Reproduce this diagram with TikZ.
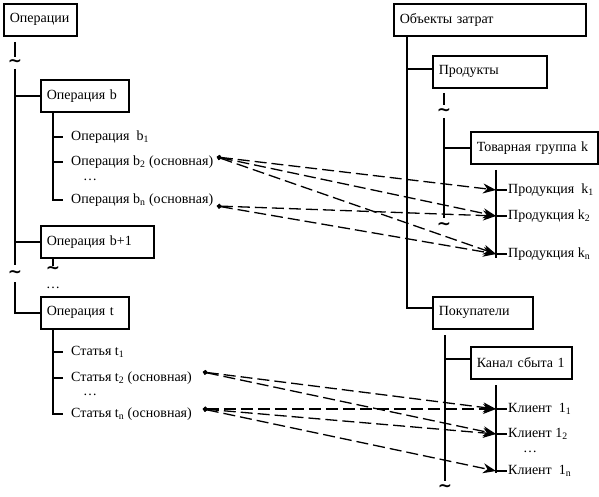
\documentclass[tikz,border=0pt]{standalone}
\usepackage{fontspec}
\setmainfont{Liberation Serif}
\newfontfamily\wavefont{DejaVu Sans}
\usetikzlibrary{arrows.meta}
\tikzset{
	box/.style={draw, line width=1.6pt, anchor=north west, minimum height=32pt, inner xsep=6pt, inner ysep=0pt, align=left},
	tree/.style={line width=1.6pt},
	iteml/.style={anchor=west, inner xsep=8pt, inner ysep=1pt},
	itemr/.style={anchor=west, inner xsep=1pt, inner ysep=1pt},
	more/.style={inner sep=0pt},
	wave/.style={inner sep=0pt, font=\wavefont\bfseries\fontsize{17}{17}\selectfont},
	link/.style={line width=1.3pt, dash pattern=on 12pt off 5pt, {Circle[length=4.5pt]}-{Stealth[length=13pt,width=10pt]}}
}
\begin{document}
\begin{tikzpicture}[x=1pt, y=-1pt, font=\fontsize{14}{16}\selectfont]
	\useasboundingbox (0,0) rectangle (599,497);
	\node[box, text width=61pt] (ops) at (3,3) {Операции};
	\node[box, text width=76pt] (opb) at (40,79) {Операция~b};
	\node[box, text width=101pt] (opb1) at (40,225) {Операция~b+1};
	\node[box, text width=76pt] (opt) at (40,296) {Операция~t};
	\node[box, text width=180pt] (obj) at (393,3) {Объекты~затрат};
	\node[box, text width=102pt] (prod) at (432,55) {Продукты};
	\node[box, text width=115pt] (grp) at (470,131) {Товарная~группа~k};
	\node[box, text width=88pt] (cust) at (432,296) {Покупатели};
	\node[box, text width=89pt] (chan) at (470,346) {Канал~сбыта~1};
	% operations
	\draw[tree] (15,42) -- (15,57);
	\node[wave] (w1) at (15,63) {\textasciitilde};
	\coordinate (s1) at (15,69);
	\draw[tree] (s1) -- (15,265);
	\draw[tree] (s1 |- opb.west) -- (opb.west);
	\draw[tree] (s1 |- opb1.west) -- (opb1.west);
	\node[wave] (w2) at (15,274) {\textasciitilde};
	\draw[tree] (15,282) |- (opt.west);
	\coordinate (sb) at ([xshift=13pt]opb.south west);
	\node[iteml] (b1) at (63,137) {Операция\ \ b\textsubscript{1}};
	\node[iteml] (b2) at (63,162) {Операция b\textsubscript{2} (основная)};
	\node[more] (bd) at (90,180) {\dots};
	\node[iteml] (bn) at (63,200) {Операция b\textsubscript{n} (основная)};
	\draw[tree] (sb) |- (b1.west);
	\draw[tree] (sb) |- (b2.west);
	\draw[tree] (sb) |- (bn.west);
	\coordinate (sb1) at ([xshift=13pt]opb1.south west);
	\draw[tree] (sb1) -- ++(0,7);
	\node[wave] (w3) at (53,270) {\textasciitilde};
	\node[more] (bd1) at (53,288) {\dots};
	\coordinate (st) at ([xshift=13pt]opt.south west);
	\node[iteml] (t1) at (63,352) {Статья t\textsubscript{1}};
	\node[iteml] (t2) at (63,378) {Статья t\textsubscript{2} (основная)};
	\node[more] (td) at (90,395) {\dots};
	\node[iteml] (tn) at (63,414) {Статья t\textsubscript{n} (основная)};
	\draw[tree] (st) |- (t1.west);
	\draw[tree] (st) |- (t2.west);
	\draw[tree] (st) |- (tn.west);
	% cost objects
	\coordinate (so) at ([xshift=14pt]obj.south west);
	\draw[tree] (so) |- ([yshift=5pt]cust.west);
	\draw[tree] (so |- prod.west) ++(0,-3) -- ([yshift=3pt]prod.west);
	\draw[tree] (444,93) -- (444,105);
	\node[wave] (w4) at (444,112) {\textasciitilde};
	\coordinate (sp) at (444,118);
	\draw[tree] (sp) -- (444,218);
	\draw[tree] (sp |- grp.west) -- (grp.west);
	\node[wave] (w5) at (444,226) {\textasciitilde};
	\coordinate (sg) at (496,170);
	\node[itemr] (k1) at (507,190) {Продукция\ \ k\textsubscript{1}};
	\node[itemr] (k2) at (507,216) {Продукция k\textsubscript{2}};
	\node[itemr] (kn) at (507,254) {Продукция k\textsubscript{n}};
	\draw[tree] (sg) -- (496,258);
	\draw[tree] (sg |- k1.west) -- (k1.west);
	\draw[tree] (sg |- k2.west) -- (k2.west);
	\draw[tree] (sg |- kn.west) -- (kn.west);
	\coordinate (sc) at (445,335);
	\draw[tree] (sc) -- (445,481);
	\draw[tree] (sc |- chan.west) ++(0,-4) -- ([yshift=4pt]chan.west);
	\node[wave] (w6) at (445,488) {\textasciitilde};
	\coordinate (sk) at (496,385);
	\node[itemr] (c1) at (507,409) {Клиент\ \ 1\textsubscript{1}};
	\node[itemr] (c2) at (507,434) {Клиент 1\textsubscript{2}};
	\node[more] (cd) at (530,452) {\dots};
	\node[itemr] (cn) at (507,471) {Клиент\ \ 1\textsubscript{n}};
	\draw[tree] (sk) -- (496,473);
	\draw[tree] (sk |- c1.west) -- (c1.west);
	\draw[tree] (sk |- c2.west) -- (c2.west);
	\draw[tree] (sk |- cn.west) -- (cn.west);
	% links
	\coordinate (pb2) at (217,157);
	\coordinate (pbn) at (217,206);
	\coordinate (pt2) at (203,372);
	\coordinate (ptn) at (203,409);
	\draw[link] (pb2) -- (sg |- k1.west);
	\draw[link] (pb2) -- (sg |- k2.west);
	\draw[link] (pb2) -- (sg |- kn.west);
	\draw[link] (pbn) -- (sg |- k2.west);
	\draw[link] (pbn) -- (sg |- kn.west);
	\draw[link] (pt2) -- (sk |- c1.west);
	\draw[link] (pt2) -- (sk |- c2.west);
	\draw[link] (ptn) -- (sk |- c1.west);
	\draw[link] (ptn) -- (sk |- c2.west);
	\draw[link] (ptn) -- (sk |- cn.west);
\end{tikzpicture}
\end{document}
